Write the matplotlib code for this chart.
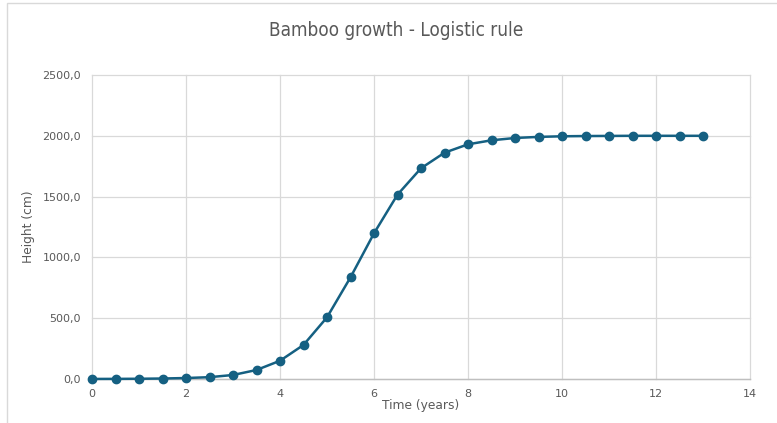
import matplotlib
matplotlib.use("Agg")
import matplotlib.pyplot as plt
from matplotlib.patches import Rectangle
from matplotlib.ticker import FuncFormatter, MultipleLocator

# Bamboo height over time (logistic growth), sampled every half year
time_years = [0, 0.5, 1, 1.5, 2, 2.5, 3, 3.5, 4, 4.5, 5, 5.5, 6, 6.5,
              7, 7.5, 8, 8.5, 9, 9.5, 10, 10.5, 11, 11.5, 12, 12.5, 13]
height_cm = [0.5, 1, 2, 4, 8, 15, 33, 74, 150, 280, 507, 836, 1198, 1516,
             1733, 1861, 1930, 1963, 1982, 1991, 1996, 1998, 1999, 2000,
             2000, 2000, 2000]

title = "Bamboo growth - Logistic rule"
x_label = "Time (years)"
y_label = "Height (cm)"

W, H = 777, 423
fig = plt.figure(figsize=(W / 100, H / 100), dpi=100)
fig.patch.set_facecolor("white")

# outer chart frame
fig.patches.append(Rectangle((7 / W, -0.1), 1.2, 1.1 - 3 / H,
                             transform=fig.transFigure, fill=False,
                             edgecolor="#d9d9d9", linewidth=1.0))

left, right, top, bottom = 92, 750, 75, 379
ax = fig.add_axes([left / W, 1 - bottom / H, (right - left) / W, (bottom - top) / H])

line_color = "#156082"
ax.plot(time_years, height_cm, color=line_color, linewidth=1.8,
        marker="o", markersize=6, markerfacecolor=line_color,
        markeredgecolor=line_color, zorder=3, clip_on=False)

ax.set_xlim(0, 14)
ax.set_ylim(0, 2500)
ax.xaxis.set_major_locator(MultipleLocator(2))
ax.yaxis.set_major_locator(MultipleLocator(500))
ax.yaxis.set_major_formatter(FuncFormatter(lambda v, p: f"{v:.1f}".replace(".", ",")))

ax.grid(True, color="#d9d9d9", linewidth=0.9)
for gl in ax.get_xgridlines() + ax.get_ygridlines():
    gl.set_clip_on(False)
ax.set_axisbelow(True)
for s in ("top", "right", "left"):
    ax.spines[s].set_visible(False)
ax.spines["bottom"].set_color("#bfbfbf")
ax.spines["bottom"].set_linewidth(1.0)

ax.tick_params(axis="both", length=0, labelsize=8, labelcolor="#595959")
ax.tick_params(axis="x", pad=7)
ax.tick_params(axis="y", pad=8)

ax.set_xlabel(x_label, fontsize=8.8, color="#595959", labelpad=0)
ax.set_ylabel(y_label, fontsize=8.8, color="#595959", labelpad=5)

fig.text(396 / W, 1 - 30 / H, title, ha="center", va="center",
         fontsize=13.6, color="#595959", fontstretch="condensed",
         family=["DejaVu Sans"])

fig.savefig("out.png", dpi=100)
